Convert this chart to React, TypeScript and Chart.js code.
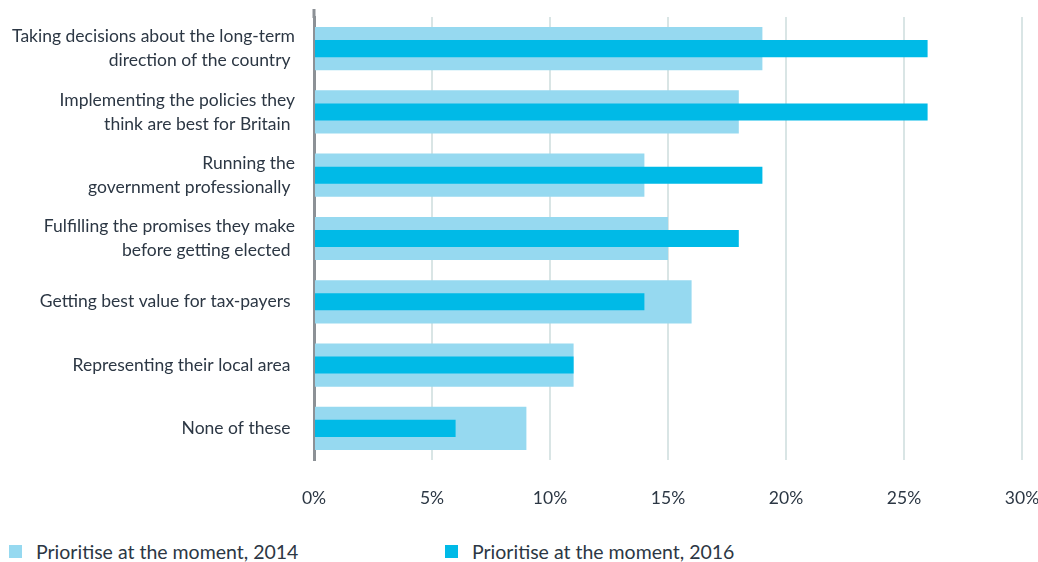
import React, { useEffect, useRef } from "react";
import { Chart, registerables } from "chart.js";

Chart.register(...registerables);

const categories: (string | string[])[] = [
  ["Taking decisions about the long-term", "direction of the country "],
  ["Implementing the policies they", "think are best for Britain "],
  ["Running the", "government professionally "],
  ["Fulfilling the promises they make", "before getting elected "],
  "Getting best value for tax-payers ",
  "Representing their local area ",
  "None of these ",
];

const values2014 = [19, 18, 14, 15, 16, 11, 9];
const values2016 = [26, 26, 19, 18, 14, 11, 6];

const label2014 = "Prioritise at the moment, 2014";
const label2016 = "Prioritise at the moment, 2016";

const tickValues = [0, 5, 10, 15, 20, 25, 30];

const COLOR_2014 = "#96d9f0";
const COLOR_2016 = "#00bae7";
const AXIS = "#8c9196";
const TEXT = "#2c3744";
const FONT = "Lato, 'Open Sans', sans-serif";

const axisExtension = {
  id: "axisExtension",
  afterDraw(chart: any) {
    const { ctx, chartArea } = chart;
    ctx.save();
    ctx.strokeStyle = AXIS;
    ctx.lineWidth = 3;
    ctx.beginPath();
    ctx.moveTo(chartArea.left, chartArea.top - 8);
    ctx.lineTo(chartArea.left, chartArea.top + 1);
    ctx.stroke();
    ctx.restore();
  },
};

export default function App() {
  const canvasRef = useRef<HTMLCanvasElement | null>(null);

  useEffect(() => {
    if (!canvasRef.current) return;
    const chart = new Chart(canvasRef.current, {
      type: "bar",
      data: {
        labels: categories,
        datasets: [
          {
            label: label2014,
            data: values2014,
            backgroundColor: COLOR_2014,
            grouped: false,
            order: 2,
            categoryPercentage: 1,
            barPercentage: 0.683,
          } as any,
          {
            label: label2016,
            data: values2016,
            backgroundColor: COLOR_2016,
            grouped: false,
            order: 1,
            categoryPercentage: 1,
            barPercentage: 0.27,
          } as any,
        ],
      },
      options: {
        indexAxis: "y",
        animation: false,
        responsive: false,
        maintainAspectRatio: false,
        layout: { padding: { top: 17, right: 16, left: 0, bottom: 0 } },
        plugins: {
          legend: { display: false },
          tooltip: { enabled: false },
        },
        scales: {
          x: {
            min: 0,
            max: 30,
            afterBuildTicks: (scale: any) => {
              scale.ticks = tickValues.map((v) => ({ value: v }));
            },
            afterFit: (scale: any) => {
              scale.height = 60;
              scale.paddingLeft = 0;
              scale.paddingRight = 0;
            },
            ticks: {
              callback: (v: any) => `${v}%`,
              color: TEXT,
              font: { family: FONT, size: 17.5 },
              padding: 28,
              maxRotation: 0,
            },
            grid: {
              color: (ctx: any) => (ctx.tick && ctx.tick.value === 0 ? "rgba(0,0,0,0)" : "#d9e5e5"),
              lineWidth: 2,
              drawTicks: false,
            },
            border: { display: false },
          },
          y: {
            afterFit: (scale: any) => {
              scale.width = 314;
              scale.paddingTop = 0;
              scale.paddingBottom = 0;
            },
            ticks: {
              color: TEXT,
              font: { family: FONT, size: 17.5, lineHeight: 1.37 },
              padding: 19,
            },
            grid: { display: false, drawTicks: false },
            border: { display: true, color: AXIS, width: 3 },
          },
        },
      },
      plugins: [axisExtension],
    });
    return () => chart.destroy();
  }, []);

  const legendItem = (left: number, color: string, text: string) => (
    <div
      style={{
        position: "absolute",
        left,
        top: 540,
        display: "flex",
        alignItems: "center",
        fontFamily: FONT,
        fontSize: 19.5,
        color: TEXT,
        whiteSpace: "nowrap",
      }}
    >
      <span
        style={{
          display: "inline-block",
          width: 13,
          height: 13,
          background: color,
          marginRight: 14,
        }}
      />
      <span>{text}</span>
    </div>
  );

  return (
    <div
      style={{
        position: "fixed",
        left: 0,
        top: 0,
        width: 1038,
        height: 562,
        background: "#fff",
        overflow: "hidden",
      }}
    >
      <canvas ref={canvasRef} width={1038} height={520} style={{ display: "block" }} />
      {legendItem(9, COLOR_2014, label2014)}
      {legendItem(445, COLOR_2016, label2016)}
    </div>
  );
}
